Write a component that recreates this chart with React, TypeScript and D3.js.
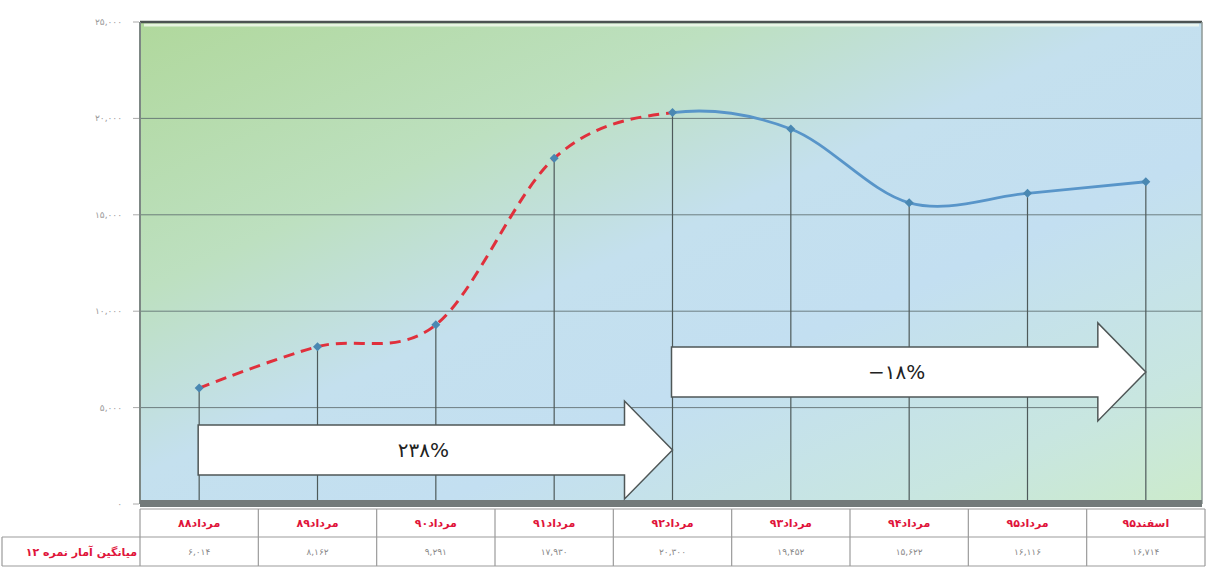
import React from 'react';
import * as d3 from 'd3';

const categories = ['مرداد۸۸', 'مرداد۸۹', 'مرداد۹۰', 'مرداد۹۱', 'مرداد۹۲', 'مرداد۹۳', 'مرداد۹۴', 'مرداد۹۵', 'اسفند۹۵'];
const values = [6014, 8162, 9291, 17930, 20300, 19452, 15622, 16116, 16714];
const yTicks = [0, 5000, 10000, 15000, 20000, 25000];
const rowLabel = 'میانگین آمار نمره ۱۲';
const splitIndex = 4;
const arrowFrom = [0, 4];
const arrowTo = [4, 8];
const arrowLevel = [2800, 6850];
const arrowLabels = ['۲۳۸%', '−۱۸%'];

const faDigits = '۰۱۲۳۴۵۶۷۸۹';
const fa = (s: string) => s.replace(/\d/g, (d) => faDigits[+d]);
const fmt = (n: number) => fa(d3.format(',')(n));

const W = 1208;
const H = 576;
const left = 140;
const right = 1205;
const top = 22;
const bottom = 504;

export default function App() {
  const x = d3.scaleBand<string>().domain(categories).range([left, right]);
  const bw = x.bandwidth();
  const cx = (i: number) => (x(categories[i]) as number) + bw / 2;
  const y = d3.scaleLinear().domain([0, 25000]).range([bottom, top]);

  const pts: [number, number][] = values.map((v, i) => [cx(i), y(v)]);
  const line = d3.line().curve(d3.curveCardinal.tension(0));
  const pathD = line(pts) || '';
  const splitX = cx(splitIndex);

  const headLen = 48;
  const bodyHalf = 25;
  const headHalf = 49;

  const rowTop = 509;
  const rowMid = 537;
  const rowBot = 566;

  return (
    <svg width={W} height={H} style={{ position: 'absolute', left: 0, top: 0, background: '#fff' }}>
      <defs>
        <linearGradient id="bg" x1="0" y1="0" x2="1" y2="1">
          <stop offset="0" stopColor="#b0d89c" />
          <stop offset="0.28" stopColor="#bde0c0" />
          <stop offset="0.47" stopColor="#c4e0ee" />
          <stop offset="0.64" stopColor="#c3dff1" />
          <stop offset="0.86" stopColor="#c8e6e0" />
          <stop offset="1" stopColor="#ccebcb" />
        </linearGradient>
        <clipPath id="clipL">
          <rect x={0} y={0} width={splitX} height={H} />
        </clipPath>
        <clipPath id="clipR">
          <rect x={splitX} y={0} width={W - splitX} height={H} />
        </clipPath>
      </defs>

      {/* plot background */}
      <rect x={left} y={top} width={right - left - 3} height={bottom - top} fill="url(#bg)" />
      <line x1={left + 4} x2={right - 6} y1={top + 3} y2={top + 3} stroke="#f4fbef" strokeWidth={3} opacity={0.8} />
      {/* gridlines */}
      {yTicks.map((t) => (
        <line key={t} x1={left} x2={right - 3} y1={y(t)} y2={y(t)} stroke="#5f6e70" strokeWidth={1} opacity={t === 0 ? 0 : 0.85} />
      ))}
      {/* frame */}
      <line x1={left} x2={right - 3} y1={top} y2={top} stroke="#4c5352" strokeWidth={2.5} />
      <line x1={left} x2={left} y1={top} y2={bottom} stroke="#7d8784" strokeWidth={2} />
      <line x1={right - 3} x2={right - 3} y1={top} y2={bottom} stroke="#8e9896" strokeWidth={1.5} />
      <rect x={left} y={bottom - 4} width={right - left - 3} height={7} fill="#737a7a" />

      {/* y axis */}
      {yTicks.map((t) => (
        <g key={'t' + t}>
          <line x1={133} x2={139} y1={y(t)} y2={y(t)} stroke="#aaa" strokeWidth={1} />
          <text x={122} y={y(t) + 3} textAnchor="end" fontFamily="DejaVu Sans" fontSize={9} fill="#9a9a9a" letterSpacing={2}>
            {fmt(t)}
          </text>
        </g>
      ))}

      {/* drop lines */}
      {pts.map(([px, py], i) => (
        <line key={'d' + i} x1={px} x2={px} y1={py} y2={bottom - 4} stroke="#4e5a5a" strokeWidth={1.2} />
      ))}

      {/* arrows */}
      {arrowFrom.map((f, k) => {
        const x0 = cx(f) - 1;
        const xt = cx(arrowTo[k]);
        const xb = xt - headLen;
        const yc = y(arrowLevel[k]);
        const d = `M${x0},${yc - bodyHalf} L${xb},${yc - bodyHalf} L${xb},${yc - headHalf} L${xt},${yc} L${xb},${yc + headHalf} L${xb},${yc + bodyHalf} L${x0},${yc + bodyHalf} Z`;
        return (
          <g key={'a' + k}>
            <path d={d} fill="#ffffff" stroke="#4f5757" strokeWidth={1.5} />
            <text x={(x0 + xb) / 2 + 12} y={yc + 7} textAnchor="middle" fontFamily="DejaVu Sans" fontSize={20} fill="#222">
              {arrowLabels[k]}
            </text>
          </g>
        );
      })}

      {/* series line */}
      <path d={pathD} fill="none" stroke="#e0303c" strokeWidth={3} strokeDasharray="11,7" clipPath="url(#clipL)" />
      <path d={pathD} fill="none" stroke="#5895c9" strokeWidth={2.8} clipPath="url(#clipR)" />
      {pts.map(([px, py], i) => (
        <path key={'m' + i} d={`M${px},${py - 4.5} L${px + 4.5},${py} L${px},${py + 4.5} L${px - 4.5},${py} Z`} fill="#4a88b2" />
      ))}

      {/* data table */}
      <g stroke="#9b9b9b" strokeWidth={1.2}>
        <line x1={left} x2={right} y1={rowTop} y2={rowTop} />
        <line x1={2} x2={right} y1={rowMid} y2={rowMid} />
        <line x1={2} x2={right} y1={rowBot} y2={rowBot} />
        <line x1={2} x2={2} y1={rowMid} y2={rowBot} />
        {categories.map((c, i) => (
          <line key={'c' + i} x1={x(c) as number} x2={x(c) as number} y1={rowTop} y2={rowBot} />
        ))}
        <line x1={right} x2={right} y1={rowTop} y2={rowBot} />
      </g>
      {categories.map((c, i) => (
        <text key={'h' + i} x={cx(i)} y={(rowTop + rowMid) / 2 + 4} textAnchor="middle" fontFamily="DejaVu Sans" fontWeight="bold" fontSize={11} fill="#e0143a">
          {c}
        </text>
      ))}
      {values.map((v, i) => (
        <text key={'v' + i} x={cx(i)} y={(rowMid + rowBot) / 2 + 3} textAnchor="middle" fontFamily="DejaVu Sans" fontSize={9} fill="#8a8a8a" letterSpacing={1}>
          {fmt(v)}
        </text>
      ))}
      <text x={137} y={(rowMid + rowBot) / 2 + 4} textAnchor="end" fontFamily="DejaVu Sans" fontWeight="bold" fontSize={11} fill="#e0143a">
        {rowLabel}
      </text>
    </svg>
  );
}
